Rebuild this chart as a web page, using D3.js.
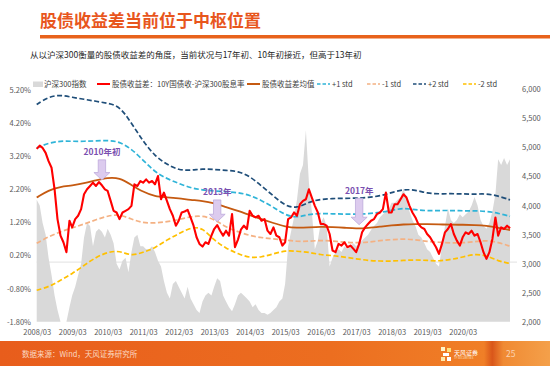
<!DOCTYPE html>
<html>
<head>
<meta charset="utf-8">
<script src="https://cdn.jsdelivr.net/npm/d3@7"></script>
<style>
    body { margin: 0; background: #fff; }
    text { font-family: "Noto Sans CJK SC", "Noto Sans", sans-serif; }
</style>
</head>
<body>
<script>

// monthly values from 2008/03
const spread = [
    3.42, 3.52, 3.45, 3.30, 3.05, 2.85, 2.20, 1.30, 0.80, 0.60,
    0.30, 1.25, 1.05, 1.30, 1.40, 1.60, 2.05, 2.20, 2.30, 2.40,
    2.30, 2.42, 2.32, 2.20, 2.15, 1.85, 1.55, 1.50, 1.30, 1.50,
    1.55, 1.60, 1.70, 2.35, 2.30, 2.45, 2.40, 2.50, 2.40, 2.45,
    2.35, 2.60, 1.90, 2.10, 1.85, 1.60, 1.40, 1.10, 1.25, 1.50,
    1.53, 1.58, 1.35, 1.10, 0.75, 0.55, 0.47, 0.60, 0.55, 0.80,
    1.00, 1.12, 0.95, 0.80, 0.95, 0.80, 1.45, 0.45, 0.68, 0.98,
    1.10, 1.00, 1.55, 1.40, 1.35, 1.40, 1.25, 1.30, 0.95, 0.85,
    1.05, 0.80, 0.75, 0.50, 0.60, 1.30, 1.35, 1.50, 1.40, 1.75,
    1.85, 1.90, 2.20, 1.95, 1.70, 1.50, 1.15, 1.15, 1.10, 0.85,
    0.35, 0.30, 0.55, 0.50, 0.60, 0.45, 0.50, 0.40, 0.30, 0.55,
    0.90, 1.05, 1.15, 1.25, 1.30, 1.45, 1.50, 1.60, 2.10, 1.50,
    1.50, 1.75, 1.75, 1.90, 2.05, 1.95, 1.70, 1.50, 1.35, 1.15,
    1.05, 1.00, 0.85, 0.75, 0.60, 0.45, 0.25, 0.55, 0.90, 1.00,
    1.15, 0.85, 0.65, 0.50, 0.75, 0.90, 0.85, 0.95, 0.80, 0.85,
    0.60, 0.30, 0.10, 0.30, 0.70, 1.35, 0.80, 1.05, 1.00, 1.10,
    1.02
];

const csi300 = [
    4100, 4000, 3700, 3500, 3100, 2800, 2450, 2200, 1900, 1850,
    1950, 2250, 2450, 2600, 2800, 3000, 3450, 3700, 3650, 3300,
    3550, 3600, 3550, 3450, 3600, 3500, 3350, 3000, 2900, 3050,
    3100, 2850, 3200, 3450, 3500, 3300, 3300, 3250, 3250, 3300,
    3200, 3050, 2950, 2700, 2500, 2400, 2650, 2700, 2600, 2500,
    2400, 2600, 2400, 2300, 2200, 2150, 2350, 2450, 2500, 2450,
    2600, 2750, 2700, 2450, 2350, 2250, 2180, 2300, 2450, 2500,
    2450, 2400, 2350, 2250, 2300, 2200, 2150, 2150, 2120, 2150,
    2200, 2250, 2350, 2400, 2650, 3300, 3550, 3800, 4100, 4550,
    4700, 5300, 4400, 3900, 3250, 3400, 3700, 3800, 3650, 2950,
    3100, 3200, 3250, 3200, 3300, 3250, 3300, 3350, 3300, 3350,
    3400, 3450, 3500, 3580, 3650, 3700, 3800, 3850, 3900, 3950,
    4050, 4050, 4100, 4150, 4300, 4100, 3900, 3750, 3650, 3500,
    3450, 3350, 3250, 3200, 3100, 3000, 2950, 3300, 3650, 3950,
    3750, 3700, 3750, 3850, 3800, 3850, 3900, 4000, 4150, 4000,
    3750, 3650, 3600, 3700, 3900, 4200, 4800, 4700, 4820, 4700,
    4800
];

// smooth bands, one value every 4 months from 2008/03
const spreadMean = [
    1.95, 2.17, 2.28, 2.31, 2.38, 2.47, 2.55, 2.55, 2.33, 2.12,
    1.98, 1.96, 1.93, 1.88, 1.85, 1.78, 1.66, 1.55, 1.42, 1.30,
    1.18, 1.07, 1.03, 1.05, 1.07, 1.06, 1.04, 1.01, 1.03, 1.07,
    1.11, 1.14, 1.15, 1.15, 1.14, 1.13, 1.13, 1.12, 1.10, 1.04,
    0.97
];
const plus1 = [
    3.45, 3.60, 3.66, 3.65, 3.65, 3.66, 3.68, 3.64, 3.42, 3.08,
    2.72, 2.52, 2.38, 2.24, 2.18, 2.15, 2.13, 2.10, 2.03, 1.86,
    1.66, 1.42, 1.34, 1.45, 1.47, 1.46, 1.45, 1.45, 1.46, 1.50,
    1.56, 1.64, 1.58, 1.55, 1.56, 1.56, 1.55, 1.55, 1.54, 1.48,
    1.38
];
const minus1 = [
    0.57, 0.77, 0.92, 1.03, 1.15, 1.28, 1.40, 1.44, 1.30, 1.18,
    1.18, 1.22, 1.28, 1.38, 1.40, 1.30, 1.05, 0.92, 0.80, 0.74,
    0.70, 0.67, 0.62, 0.63, 0.66, 0.64, 0.60, 0.58, 0.60, 0.65,
    0.68, 0.70, 0.68, 0.62, 0.60, 0.58, 0.58, 0.62, 0.66, 0.60,
    0.48
];
const plus2 = [
    4.76, 5.00, 5.05, 4.98, 4.92, 4.86, 4.80, 4.72, 4.20, 3.65,
    3.20, 2.95, 2.78, 2.77, 2.82, 2.80, 2.77, 2.75, 2.60, 2.30,
    2.00, 1.70, 1.62, 1.82, 1.90, 1.92, 1.93, 1.93, 1.95, 2.00,
    2.10, 2.20, 2.18, 2.08, 2.06, 2.07, 2.06, 2.05, 2.07, 2.00,
    1.88
];
const minus2 = [
    -0.85, -0.75, -0.55, -0.35, -0.10, 0.15, 0.30, 0.35, 0.18, 0.30,
    0.42, 0.68, 0.85, 1.05, 1.05, 0.65, 0.42, 0.25, 0.13, 0.15,
    0.25, 0.35, 0.33, 0.30, 0.22, 0.20, 0.15, 0.10, 0.05, 0.03,
    0.03, 0.05, 0.07, 0.05, 0.03, 0.08, 0.15, 0.25, 0.20, 0.03,
    -0.04
];

const leftTicks = [-1.8, -0.8, 0.2, 1.2, 2.2, 3.2, 4.2, 5.2];
const rightTicks = [2000, 2500, 3000, 3500, 4000, 4500, 5000, 5500, 6000];
const xTickYears = [2008, 2009, 2010, 2011, 2012, 2013, 2014, 2015, 2016, 2017, 2018, 2019, 2020];

const notes = [
    { label: "2010年初", month: 22, top: 3.09, tip: 2.48 },
    { label: "2013年", month: 61, top: 1.88, tip: 1.22 },
    { label: "2017年", month: 109, top: 1.93, tip: 1.13 }
];

const legendItems = [
    { label: "沪深300指数", kind: "area", color: "#d9d9d9" },
    { label: "股债收益差：10Y国债收-沪深300股息率", kind: "line", color: "#ff0000" },
    { label: "股债收益差均值", kind: "line", color: "#c55a11" },
    { label: "+1 std", kind: "dash", color: "#2fb4d8" },
    { label: "-1 std", kind: "dash", color: "#f4b183" },
    { label: "+2 std", kind: "dash", color: "#1f4e79" },
    { label: "-2 std", kind: "dash", color: "#ffc000" }
];
const legendX = [33, 97, 247, 317, 367, 413, 463];

const start = new Date(2008, 2, 1);
const monthAt = i => d3.timeMonth.offset(start, i);

const svg = d3.select("body")
    .append("svg")
    .attr("width", 550)
    .attr("height", 366);

// header
svg.append("text")
    .attr("x", 40)
    .attr("y", 26.5)
    .attr("font-size", 17)
    .attr("font-weight", "bold")
    .attr("fill", "#e8561d")
    .text("股债收益差当前位于中枢位置");

svg.append("rect")
    .attr("x", 40)
    .attr("y", 35)
    .attr("width", 510)
    .attr("height", 3.5)
    .attr("fill", "#e8621c");

svg.append("text")
    .attr("x", 30)
    .attr("y", 58)
    .attr("font-size", 8.5)
    .attr("fill", "#262626")
    .text("从以沪深300衡量的股债收益差的角度，当前状况与17年初、10年初接近，但高于13年初");

// scales
const x = d3.scaleTime()
    .domain([start, new Date(2021, 6, 1)])
    .range([36.7, 510]);

const y = d3.scaleLinear()
    .domain([-1.8, 5.2])
    .range([321.7, 90]);

const y2 = d3.scaleLinear()
    .domain([2000, 6000])
    .range([321.7, 89.5])
    .clamp(true);

// CSI300 area
svg.append("path")
    .datum(csi300)
    .attr("d", d3.area()
        .x((d, i) => x(monthAt(i)))
        .y0(y2(2000))
        .y1(d => y2(d)))
    .attr("fill", "#d9d9d9");

// zero line
svg.append("line")
    .attr("x1", x(start))
    .attr("x2", 517)
    .attr("y1", y(0))
    .attr("y2", y(0))
    .attr("stroke", "#d9d9d9")
    .attr("stroke-width", 0.8);

const bandLine = d3.line()
    .x((d, i) => x(monthAt(i * 4)))
    .y(d => y(d))
    .curve(d3.curveBasis);

const bands = [
    { data: minus2, color: "#ffc000", dash: true },
    { data: minus1, color: "#f4b183", dash: true },
    { data: plus1, color: "#2fb4d8", dash: true },
    { data: plus2, color: "#1f4e79", dash: true },
    { data: spreadMean, color: "#c55a11", dash: false }
];

bands.forEach(b => {
    svg.append("path")
        .datum(b.data)
        .attr("d", bandLine)
        .attr("fill", "none")
        .attr("stroke", b.color)
        .attr("stroke-width", b.dash ? 1.7 : 1.8)
        .attr("stroke-dasharray", b.dash ? "5,2.5" : null);
});

svg.append("path")
    .datum(spread)
    .attr("d", d3.line()
        .x((d, i) => x(monthAt(i)))
        .y(d => y(d)))
    .attr("fill", "none")
    .attr("stroke", "#ff0000")
    .attr("stroke-width", 2.1)
    .attr("stroke-linejoin", "round");

// arrows
notes.forEach(n => {
    const cx = x(monthAt(n.month));
    const yt = y(n.top), yp = y(n.tip);
    const headY = yp - 7.5;
    svg.append("path")
        .attr("d", `M${cx - 3.7},${yt} L${cx + 3.7},${yt} L${cx + 3.7},${headY} L${cx + 8},${headY}
            L${cx},${yp} L${cx - 8},${headY} L${cx - 3.7},${headY} Z`)
        .attr("fill", "#dccbee")
        .attr("stroke", "#b8a3d8")
        .attr("stroke-width", 0.7);
    svg.append("text")
        .attr("x", cx)
        .attr("y", yt - 4.5)
        .attr("text-anchor", "middle")
        .attr("font-size", 8.5)
        .attr("font-weight", "bold")
        .attr("fill", "#7a4fb0")
        .text(n.label);
});

// axes
const leftAxis = svg.append("g")
    .attr("transform", "translate(31,0)")
    .call(d3.axisLeft(y)
        .tickValues(leftTicks)
        .tickFormat(d => d.toFixed(2) + "%")
        .tickSize(0)
        .tickPadding(0));

const rightAxis = svg.append("g")
    .attr("transform", "translate(522,0)")
    .call(d3.axisRight(y2)
        .tickValues(rightTicks)
        .tickFormat(d3.format(","))
        .tickSize(0)
        .tickPadding(0));

const bottomAxis = svg.append("g")
    .attr("transform", "translate(0,327)")
    .call(d3.axisBottom(x)
        .tickValues(xTickYears.map(yr => new Date(yr, 2, 1)))
        .tickFormat(d3.timeFormat("%Y/%m"))
        .tickSize(0)
        .tickPadding(3));

[leftAxis, rightAxis, bottomAxis].forEach(g => {
    g.select(".domain").remove();
    g.selectAll("text")
        .attr("font-family", "'Noto Sans CJK SC', sans-serif")
        .attr("font-size", 7.5)
        .attr("fill", "#595959");
});

// legend
const legend = svg.append("g");
legendItems.forEach((d, i) => {
    const lx = legendX[i];
    if (d.kind === "area") {
        legend.append("rect")
            .attr("x", lx)
            .attr("y", 81.5)
            .attr("width", 10)
            .attr("height", 5.5)
            .attr("fill", d.color);
    } else {
        legend.append("line")
            .attr("x1", lx)
            .attr("x2", lx + 13)
            .attr("y1", 84)
            .attr("y2", 84)
            .attr("stroke", d.color)
            .attr("stroke-width", d.kind === "dash" ? 1.6 : 2)
            .attr("stroke-dasharray", d.kind === "dash" ? "3.5,2" : null);
    }
    legend.append("text")
        .attr("x", lx + (d.kind === "area" ? 11 : 15))
        .attr("y", 86.7)
        .attr("font-size", 7.5)
        .attr("fill", "#404040")
        .text(d.label);
});

// footer
const grad = svg.append("defs")
    .append("linearGradient")
    .attr("id", "foot");
grad.append("stop").attr("offset", "0%").attr("stop-color", "#e85d1c");
grad.append("stop").attr("offset", "60%").attr("stop-color", "#ec6e20");
grad.append("stop").attr("offset", "88%").attr("stop-color", "#f07f27");
grad.append("stop").attr("offset", "89.5%").attr("stop-color", "#d9561a");
grad.append("stop").attr("offset", "91.5%").attr("stop-color", "#f08a33");
grad.append("stop").attr("offset", "100%").attr("stop-color", "#f4a04a");

svg.append("rect")
    .attr("x", 0)
    .attr("y", 341)
    .attr("width", 550)
    .attr("height", 25)
    .attr("fill", "url(#foot)");

svg.append("text")
    .attr("x", 22)
    .attr("y", 356.5)
    .attr("font-size", 7.5)
    .attr("fill", "#fbd9c2")
    .text("数据来源：Wind，天风证券研究所");

// logo
const logo = svg.append("g").attr("transform", "translate(441,347)");
logo.append("rect").attr("x", 0).attr("y", 0).attr("width", 4).attr("height", 4).attr("fill", "#fff4c8");
logo.append("rect").attr("x", 6).attr("y", 1).attr("width", 4).attr("height", 4).attr("fill", "#ffe07a");
logo.append("rect").attr("x", 2).attr("y", 6).attr("width", 6).attr("height", 3).attr("fill", "#fff");
logo.append("rect").attr("x", 0).attr("y", 10).attr("width", 4).attr("height", 4).attr("fill", "#ffe9a8");
logo.append("rect").attr("x", 6).attr("y", 10).attr("width", 4).attr("height", 4).attr("fill", "#fff");
logo.append("text")
    .attr("x", 13)
    .attr("y", 7.5)
    .attr("font-size", 6)
    .attr("fill", "#fff")
    .text("天风证券");
logo.append("text")
    .attr("x", 13)
    .attr("y", 12)
    .attr("font-size", 2.8)
    .attr("fill", "#fde6d2")
    .text("TF SECURITIES");

svg.append("text")
    .attr("x", 506)
    .attr("y", 357)
    .attr("font-size", 8.5)
    .attr("fill", "#fbd2b0")
    .text("25");

</script>
</body>
</html>
